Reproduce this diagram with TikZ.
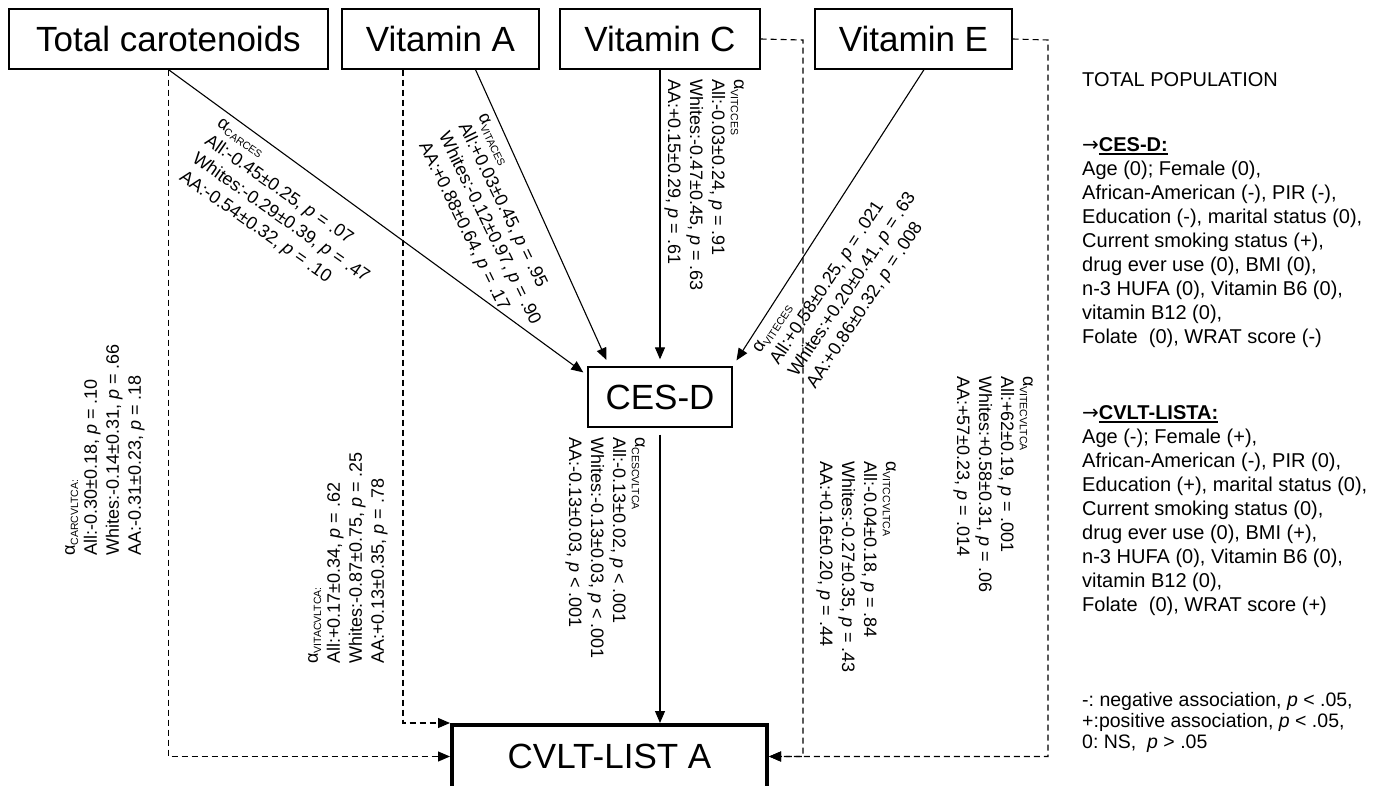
\documentclass[tikz,border=0pt]{standalone}
\usepackage{fontspec}
\setmainfont{Liberation Sans}
\newfontfamily\arrowfont{DejaVu Sans}
\usetikzlibrary{positioning, arrows.meta, calc}
\newcommand{\asub}[1]{α\raisebox{-0.35ex}{\fontsize{10.5}{10.5}\selectfont #1}}
\newcommand{\pp}{\textit{p}}
\newsavebox{\ulbox}
\newcommand{\thickul}[1]{\sbox{\ulbox}{#1}\rlap{\rule[-3.5pt]{\wd\ulbox}{1.8pt}}\usebox{\ulbox}}
\frenchspacing

\begin{document}
\begin{tikzpicture}[x=1pt, y=-1pt,
  >={Triangle[length=12pt,width=10pt]},
  box/.style={draw, line width=1.3pt, inner sep=0pt, minimum height=60pt, font=\fontsize{35}{42}\selectfont},
  link/.style={line width=1.1pt, ->},
  dlink/.style={line width=1.1pt, ->, dash pattern=on 6pt off 4pt},
  coef/.style={font=\fontsize{18}{22}\selectfont, align=left, inner sep=0pt, anchor=north west},
  note/.style={font=\fontsize{20}{24}\selectfont, align=left, inner sep=0pt, anchor=north west}]

\useasboundingbox (0,0) rectangle (1382,786);
\fill[white] (0,0) rectangle (1382,786);

\node[box, minimum width=319pt](tc) at (168.5,39) {Total carotenoids};
\node[box, minimum width=197pt](va) at (440.5,39) {Vitamin A};
\node[box, minimum width=200pt](vc) at (660,39) {Vitamin C};
\node[box, minimum width=197pt](ve) at (913.5,39) {Vitamin E};
\node[box, minimum width=144pt](cesd) at (660,397) {CES-D};
\node[box, minimum width=315pt, minimum height=63pt, line width=4pt](cvlt) at (609.5,756.5) {CVLT-LIST A};

\coordinate (vcturn) at (803,40);
\coordinate (veturn) at (1048,40);

\draw[link, shorten >=5pt] (tc.south) -- ($(cesd.north west)+(0,9)$);
\draw[link, shorten >=7pt] ($(va.south)+(35,0)$) -- ($(cesd.north west)+(22,0)$);
\draw[link, shorten >=7pt] (vc.south) -- (cesd.north);
\draw[link, shorten >=7pt] ($(ve.south)+(10.5,0)$) -- (cesd.north east);
\draw[link, shorten <=7pt] (cesd.south) -- (cesd.south |- cvlt.north);

\draw[dlink] (tc.south) |- (cvlt.west);
\draw[dlink] ($(va.south)+(-37.5,0)$) |- (cvlt.north west);
\draw[dlink] (vc.east) -- (vcturn) |- (cvlt.east);
\draw[dlink] (ve.east) -- (veturn) |- (cvlt.east);

\node[coef, rotate=-35](lcarces) at (222,117) {\asub{CARCES}\\All:-0.45±0.25, \pp{} = .07\\Whites:-0.29±0.39, \pp{} = .47\\AA:-0.54±0.32, \pp{} = .10};
\node[coef, rotate=-64](lvitaces) at (487,112) {\asub{VITACES}\\All:+0.03±0.45, \pp{} = .95\\Whites:-0.12±0.97, \pp{} = .90\\AA:+0.88±0.64, \pp{} = .17};
\node[coef, rotate=-90](lvitcces) at (744,79) {\asub{VITCCES}\\All:-0.03±0.24, \pp{} = .91\\Whites:-0.47±0.45, \pp{} = .63\\AA:+0.15±0.29, \pp{} = .61};
\node[coef, rotate=56.6](lviteces) at (752,348) {\asub{VITECES}\\All:+0.58±0.25, \pp{} = .021\\Whites:+0.20±0.41, \pp{} = .63\\AA:+0.86±0.32, \pp{} = .008};
\node[coef, rotate=90](lcarcvlt) at (65,556) {\asub{CARCVLTCA:}\\All:-0.30±0.18, \pp{} = .10\\Whites:-0.14±0.31, \pp{} = .66\\AA:-0.31±0.23, \pp{} = .18};
\node[coef, rotate=90](lvitacvlt) at (308,664) {\asub{VITACVLTCA:}\\All:+0.17±0.34, \pp{} = .62\\Whites:-0.87±0.75, \pp{} = .25\\AA:+0.13±0.35, \pp{} = .78};
\node[coef, rotate=-90](lcescvlt) at (645,437) {\asub{CESCVLTCA}\\All:-0.13±0.02, \pp{} < .001\\Whites:-0.13±0.03, \pp{} < .001\\AA:-0.13±0.03, \pp{} < .001};
\node[coef, rotate=-90](lvitccvlt) at (896,461) {\asub{VITCCVLTCA}\\All:-0.04±0.18, \pp{} = .84\\Whites:-0.27±0.35, \pp{} = .43\\AA:+0.16±0.20, \pp{} = .44};
\node[coef, rotate=-90](lvitecvlt) at (1033,376) {\asub{VITECVLTCA}\\All:+62±0.19, \pp{} = .001\\Whites:+0.58±0.31, \pp{} = .06\\AA:+57±0.23, \pp{} = .014};

\node[note, anchor=west](totpop) at (1082,80) {TOTAL POPULATION};
\node[note](cescov) at (1082,137) {{\arrowfont →}\thickul{\textbf{CES-D:}}\\Age (0); Female (0),\\African-American (-), PIR (-),\\Education (-), marital status (0),\\Current smoking status (+),\\drug ever use (0), BMI (0),\\n-3 HUFA (0), Vitamin B6 (0),\\vitamin B12 (0),\\Folate~~(0), WRAT score (-)};
\node[note](cvltcov) at (1082,405) {{\arrowfont →}\thickul{\textbf{CVLT-LISTA:}}\\Age (-); Female (+),\\African-American (-), PIR (0),\\Education (+), marital status (0),\\Current smoking status (0),\\drug ever use (0), BMI (+),\\n-3 HUFA (0), Vitamin B6 (0),\\vitamin B12 (0),\\Folate~~(0), WRAT score (+)};
\node[note, font=\fontsize{19.5}{21}\selectfont](legend) at (1082,692) {-: negative association, \pp{} < .05,\\+:positive association, \pp{} < .05,\\0: NS,~~\pp{} > .05};

\end{tikzpicture}
\end{document}
